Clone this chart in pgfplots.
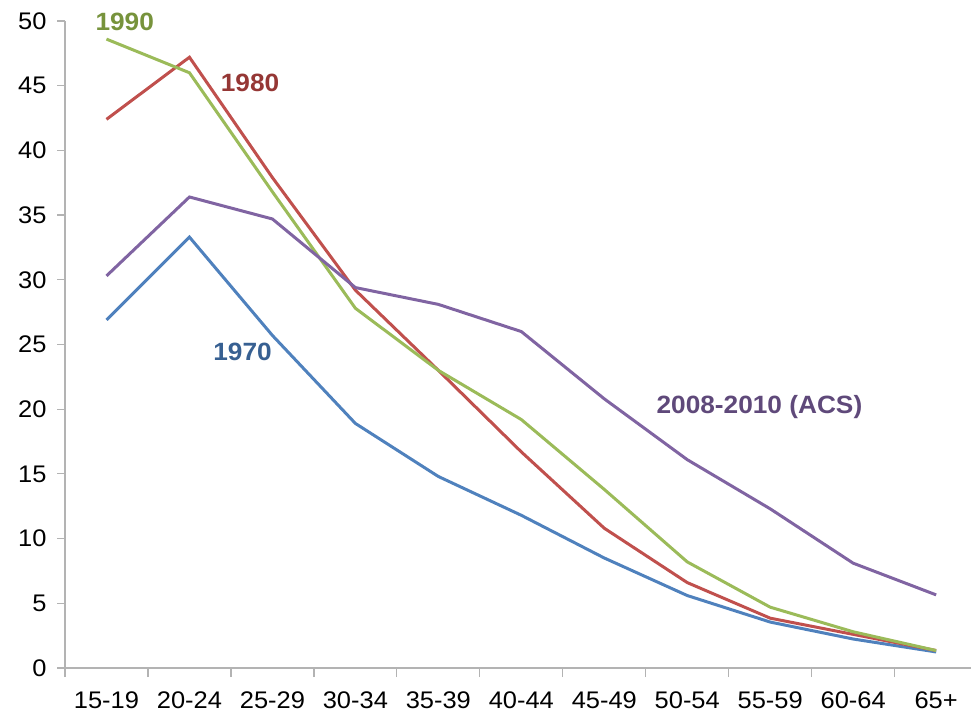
\documentclass[border=0pt]{standalone}
\usepackage{pgfplots}
\pgfplotsset{compat=1.18}
\usepackage{fontspec}
\setmainfont{Liberation Sans}
\newfontfamily\tickfont[FakeStretch=1.06]{Liberation Sans}
\newfontfamily\labfont[FakeStretch=1.05]{Liberation Sans}
\definecolor{cBlue}{HTML}{4F81BD}
\definecolor{cRed}{HTML}{C0504D}
\definecolor{cGreen}{HTML}{9BBB59}
\definecolor{cPurple}{HTML}{8064A2}
\definecolor{lBlue}{HTML}{376092}
\definecolor{lRed}{HTML}{953735}
\definecolor{lGreen}{HTML}{77933C}
\definecolor{lPurple}{HTML}{5F497A}
\definecolor{axgray}{HTML}{B3B3B3}
\begin{document}
\begin{tikzpicture}
\begin{axis}[
  scale only axis,
  width=906pt, height=647pt,
  xmin=-0.5, xmax=10.42,
  ymin=0, ymax=50,
  axis lines=left,
  axis line style={draw=axgray, line width=1.2pt, -},
  xtick={0,...,10},
  xticklabels={15-19,20-24,25-29,30-34,35-39,40-44,45-49,50-54,55-59,60-64,65+},
  minor xtick={-0.5,0.5,...,9.5},
  ytick={0,5,...,50},
  tick align=outside,
  major tick length=8pt,
  minor tick length=9pt,
  x tick style={draw=none},
  minor x tick style={draw=axgray, line width=1.2pt},
  y tick style={draw=axgray, line width=1.2pt},
  tick label style={font=\tickfont\fontsize{24}{28}\selectfont, text=black},
  xticklabel style={yshift=-12pt},
  yticklabel style={xshift=-7pt},
  /pgf/number format/assume math mode=true,
  clip=false,
]
\addplot[cBlue, line width=3pt] coordinates {(0,26.9) (1,33.3) (2,25.7) (3,18.9) (4,14.8) (5,11.8) (6,8.5) (7,5.6) (8,3.55) (9,2.24) (10,1.24)};
\addplot[cRed, line width=3pt] coordinates {(0,42.4) (1,47.2) (2,37.9) (3,29.2) (4,23.0) (5,16.7) (6,10.8) (7,6.6) (8,3.85) (9,2.6) (10,1.35)};
\addplot[cGreen, line width=3pt] coordinates {(0,48.6) (1,46.0) (2,36.8) (3,27.8) (4,23.0) (5,19.2) (6,13.8) (7,8.2) (8,4.7) (9,2.8) (10,1.35)};
\addplot[cPurple, line width=3pt] coordinates {(0,30.3) (1,36.4) (2,34.7) (3,29.4) (4,28.1) (5,26.0) (6,20.8) (7,16.1) (8,12.3) (9,8.1) (10,5.65)};
\node[text=lGreen, font=\labfont\fontsize{25}{29}\selectfont\bfseries] at (axis cs:0.22,49.9) {1990};
\node[text=lRed, font=\labfont\fontsize{25}{29}\selectfont\bfseries] at (axis cs:1.73,45.2) {1980};
\node[text=lBlue, font=\labfont\fontsize{25}{29}\selectfont\bfseries] at (axis cs:1.64,24.4) {1970};
\node[text=lPurple, font=\labfont\fontsize{25}{29}\selectfont\bfseries] at (axis cs:7.87,20.2) {2008-2010 (ACS)};
\end{axis}
\pgfresetboundingbox
\path (current axis.south west) ++(-65pt,-49pt) rectangle ++(971pt,717pt);
\end{tikzpicture}
\end{document}
